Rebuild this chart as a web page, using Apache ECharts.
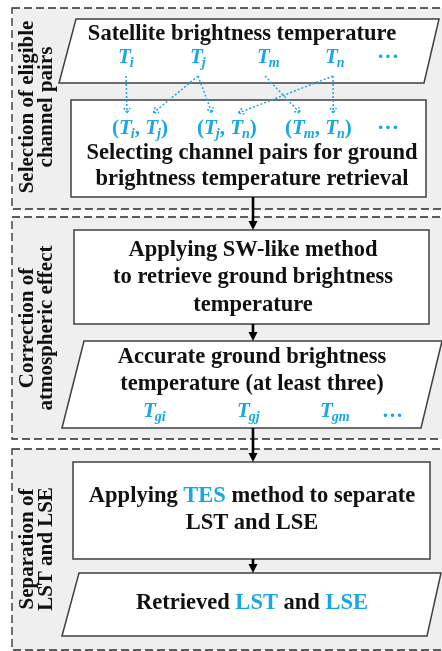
<!DOCTYPE html>
<html><head><meta charset="utf-8">
<script src="https://cdn.jsdelivr.net/npm/echarts@6/dist/echarts.min.js"></script>
<style>html,body{margin:0;padding:0;background:#fff}#c{width:442px;height:651px}</style>
</head><body><div id="c"></div>
<script>
// ---- content ----
const stageLabels = [["Selection of eligible","channel pairs"],["Correction of","atmospheric effect"],["Separation of","LST and LSE"]];
const inputTitle = "Satellite brightness temperature";
const channels = ["i","j","m","n"];
const channelPairs = [["i","j"],["j","n"],["m","n"]];
const pairLinks = [["i",0,0],["j",0,1],["j",1,0],["m",2,0],["n",1,1],["n",2,1]];
const selectText = ["Selecting channel pairs for ground","brightness temperature retrieval"];
const swText = ["Applying SW-like method","to retrieve ground brightness","temperature"];
const groundText = ["Accurate ground brightness","temperature (at least three)"];
const groundChannels = ["gi","gj","gm"];
const tesText = ["{k|Applying }{b|TES}{k| method to separate}","{k|LST and LSE}"];
const resultText = "{k|Retrieved }{b|LST}{k| and }{b|LSE}";
const moreMark = "\u00b7\u00b7\u00b7";

// ---- drawing ----
const BLUE='#17a7e6', EDGE='#404040', FILL='#efefef', INK='#111';
const SERIF='"Liberation Serif","Times New Roman",serif';
const FS=22.5;
const els=[];
const ctx=document.createElement('canvas').getContext('2d');
function fnt(fs,it,bold){return (it?'italic ':'')+(bold===false?'':'bold ')+fs+'px '+SERIF;}
function measure(s,fs,it){ctx.font=fnt(fs,it);return ctx.measureText(s).width;}
function text(x,base,s,fs,o){o=o||{};
  els.push({type:'text',x:x,y:base-0.305*fs,z:10,style:{text:s,fontSize:fs,fontFamily:SERIF,fontWeight:'bold',fontStyle:o.italic?'italic':'normal',fill:o.fill||INK,align:o.align||'center',verticalAlign:'middle'}});
}
function rich(x,base,s,fs){
  els.push({type:'text',x:x,y:base-0.305*fs,z:10,style:{text:s,align:'center',verticalAlign:'middle',
    rich:{k:{fontSize:fs,fontFamily:SERIF,fontWeight:'bold',fill:INK},b:{fontSize:fs,fontFamily:SERIF,fontWeight:'bold',fill:BLUE}}}});
}
function sym(x,base,sub,fs,sfs){
  text(x,base,'T',fs,{italic:true,fill:BLUE,align:'left'});
  const wT=measure('T',fs,true);
  text(x+wT-1,base+4,sub,sfs,{italic:true,fill:BLUE,align:'left'});
  return {w:wT-1+measure(sub,sfs,true),cx:x+wT*0.55};
}
function box(y,h){els.push({type:'rect',z:1,shape:{x:12,y:y,width:480,height:h},style:{fill:FILL,stroke:'#2a2a2a',lineWidth:1.3,lineDash:[8,4]}});}
function rect(x1,y1,x2,y2){els.push({type:'rect',z:3,shape:{x:x1,y:y1,width:x2-x1,height:y2-y1},style:{fill:'#fff',stroke:EDGE,lineWidth:1.5}});}
function para(pts){els.push({type:'polygon',z:3,shape:{points:pts},style:{fill:'#fff',stroke:EDGE,lineWidth:1.5}});}
function arrow(x,y1,y2){
  els.push({type:'line',z:5,shape:{x1:x,y1:y1,x2:x,y2:y2-6},style:{stroke:'#000',lineWidth:2.6}});
  els.push({type:'polygon',z:5,shape:{points:[[x-4.5,y2-9],[x+4.5,y2-9],[x,y2]]},style:{fill:'#000'}});
}
function dotArrow(x1,y1,x2,y2){
  els.push({type:'line',z:6,shape:{x1:x1,y1:y1,x2:x2,y2:y2},style:{stroke:BLUE,lineWidth:1.5,lineDash:[2,2]}});
  const a=Math.atan2(y2-y1,x2-x1),L=6,s=0.55;
  els.push({type:'polyline',z:6,shape:{points:[[x2-L*Math.cos(a-s),y2-L*Math.sin(a-s)],[x2,y2],[x2-L*Math.cos(a+s),y2-L*Math.sin(a+s)]]},style:{stroke:BLUE,lineWidth:1.5,lineDash:[2,1.5],fill:null}});
}
function stage(cy,lines){
  els.push({type:'text',x:37.5,y:cy,rotation:Math.PI/2,z:10,style:{text:lines.join('\n'),fontSize:21,fontFamily:SERIF,fontWeight:'bold',fill:INK,align:'center',verticalAlign:'middle',lineHeight:19}});
}

// stage containers
box(8,201); box(217,222); box(449,201);
stage(107,stageLabels[0]); stage(328,stageLabels[1]); stage(549,stageLabels[2]);

// stage 1
para([[76,19],[439,19],[424,83],[59,83]]);
text(242,41,inputTitle,FS);
const chX=[118,190,257,325], chPos={};
channels.forEach((c,i)=>{chPos[c]=sym(chX[i],64,c,21,14).cx;});
text(377,64,moreMark,22,{fill:BLUE,align:'left'});
rect(71,100,426,197);
const pairX=[112,197,285], pairPos=[];
channelPairs.forEach((p,i)=>{
  let x=pairX[i]; const b=135, fs=21, sf=14, pos=[];
  text(x,b,'(',fs,{fill:BLUE,align:'left'}); x+=measure('(',fs);
  let r=sym(x,b,p[0],fs,sf); pos.push(r.cx); x+=r.w;
  text(x,b,', ',fs,{fill:BLUE,align:'left'}); x+=measure(', ',fs);
  r=sym(x,b,p[1],fs,sf); pos.push(r.cx); x+=r.w;
  text(x,b,')',fs,{fill:BLUE,align:'left'});
  pairPos.push(pos);
});
text(377,135,moreMark,22,{fill:BLUE,align:'left'});
pairLinks.forEach(l=>dotArrow(chPos[l[0]]+1,76,pairPos[l[1]][l[2]]+1,113));
selectText.forEach((s,i)=>text(252,160+26*i,s,FS));

// stage 2
arrow(253,197,230);
rect(74,230,429,324);
swText.forEach((s,i)=>text(253,257+27.5*i,s,FS));
arrow(253,324,341);
para([[84,341],[442,341],[421,428],[62,428]]);
groundText.forEach((s,i)=>text(252,364+27*i,s,FS));
const gX=[143,237,320];
groundChannels.forEach((g,i)=>sym(gX[i],418,g,21,14));
text(382,418,'\u2026',21,{fill:BLUE,align:'left'});

// stage 3
arrow(253,428,462);
rect(73,462,430,559);
tesText.forEach((s,i)=>rich(252,503+27*i,s,FS));
arrow(253,559,573);
para([[79,573],[441,573],[427,636],[62,636]]);
rich(252,610,resultText,FS);

const chart=echarts.init(document.getElementById('c'),null,{renderer:'canvas'});
chart.setOption({animation:false,backgroundColor:'#fff',graphic:{elements:els}});
</script></body></html>
